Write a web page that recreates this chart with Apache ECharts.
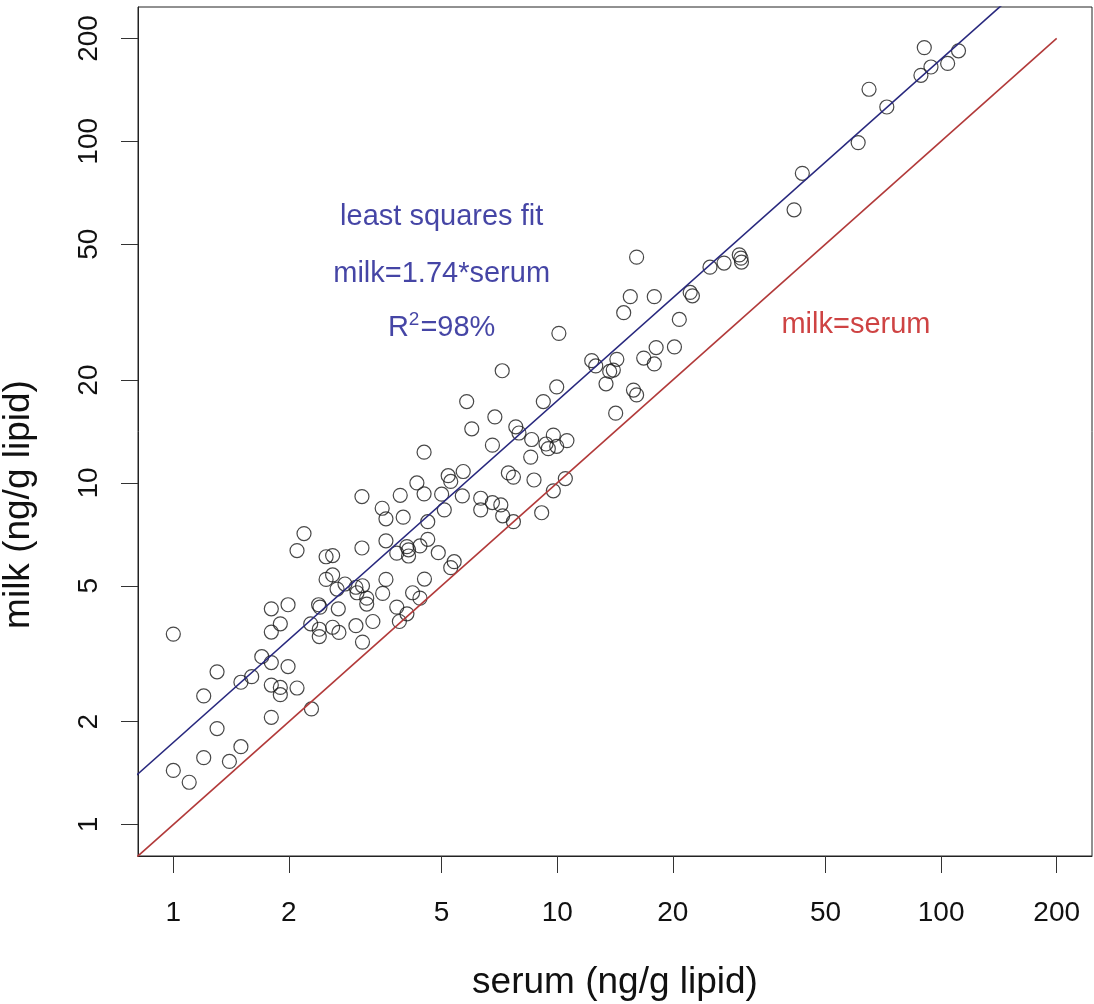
<!DOCTYPE html>
<html>
<head>
<meta charset="utf-8">
<title>milk vs serum</title>
<script src="https://cdn.jsdelivr.net/npm/echarts@6/dist/echarts.min.js"></script>
<style>
  html, body { margin: 0; padding: 0; background: #fff; }
  #chartWrap { width: 1094px; height: 1004px; }
</style>
</head>
<body>
<div id="chartWrap"></div>
<script>
// 数据：serum / milk (ng/g lipid)
var serum = [
  1.00, 1.80, 1.99, 2.39, 2.41, 2.69, 1.90, 1.80, 2.28, 2.40, 2.40, 2.60, 1.70, 1.80, 1.99, 1.30,
  1.50, 1.60, 1.80, 1.90, 1.90, 2.10, 1.20, 2.29, 1.80, 1.30, 1.50, 1.20, 1.40, 1.00, 1.10,
  3.10, 3.90, 3.50, 3.58, 3.97, 2.19, 2.10, 2.50, 2.60, 3.10, 3.58, 3.82, 4.06, 4.10, 4.10, 2.50,
  2.60, 2.67, 2.80, 2.99, 3.11, 3.01, 3.19, 3.19, 3.58, 3.51, 3.82, 4.06, 3.88, 3.31, 2.99, 3.11, 2.70,
  6.88, 5.99, 6.78, 4.50, 7.46, 7.69, 5.69, 5.20, 5.28, 4.31, 4.50, 5.00, 5.66, 6.32, 6.78, 7.13,
  5.08, 6.32, 7.21, 4.60, 4.39, 4.60, 4.90, 5.39, 5.28, 4.51, 4.20, 4.39,
  10.1, 7.19, 12.3, 12.6, 9.97, 5.81, 9.20, 7.80, 7.95, 8.58, 9.77, 9.35, 10.6, 9.97, 9.48, 8.53,
  8.70, 10.5, 9.77, 7.69, 9.11,
  16.1, 25.0, 27.2, 29.8, 30.1, 30.2, 15.5, 17.9, 22.2, 22.5, 14.9, 20.8, 18.1, 20.2, 14.3, 16.8,
  17.9, 13.7, 14.0, 13.4, 15.8, 16.1, 14.2,
  90.4, 111, 94.1, 104, 88.6, 64.9, 72.2, 60.8, 43.5, 41.4
];
var milk = [
  3.61, 4.28, 4.40, 4.40, 4.33, 4.28, 3.87, 3.66, 3.87, 3.73, 3.55, 3.78, 3.10, 2.98, 2.90, 2.80,
  2.61, 2.71, 2.56, 2.52, 2.40, 2.51, 2.38, 2.18, 2.06, 1.91, 1.69, 1.57, 1.53, 1.44, 1.33,
  9.12, 9.20, 8.43, 7.85, 7.94, 7.11, 6.34, 6.08, 6.13, 6.45, 6.77, 6.23, 6.51, 6.37, 6.11, 5.22,
  5.38, 4.89, 5.06, 4.95, 5.00, 4.77, 4.60, 4.42, 5.22, 4.75, 4.33, 4.14, 3.93, 3.93, 3.82, 3.42, 3.65,
  15.6, 14.4, 12.9, 12.3, 10.7, 10.4, 10.8, 10.5, 10.1, 10.0, 9.29, 9.27, 9.16, 9.02, 8.76, 8.62,
  8.34, 8.34, 8.01, 7.70, 6.54, 6.84, 6.25, 5.88, 5.65, 5.23, 4.77, 4.60,
  27.4, 21.3, 22.8, 22.0, 19.1, 17.3, 17.3, 14.6, 14.0, 13.4, 13.8, 13.0, 13.3, 12.8, 12.6, 11.9,
  10.2, 10.3, 9.48, 7.70, 8.18,
  45.8, 42.8, 44.0, 46.5, 45.5, 44.3, 35.1, 35.1, 36.1, 35.3, 31.5, 30.1, 24.9, 25.0, 23.0, 23.2,
  22.3, 21.2, 21.4, 19.5, 18.7, 18.1, 16.0,
  188, 184, 165, 169, 156, 142, 126, 99.1, 80.6, 63.0
];

var tickValues = [1, 2, 5, 10, 20, 50, 100, 200];

// 拟合线 milk = 1.74*serum, 对角线 milk = serum
var fitSlope = 1.74;
var fitX = [0.5, 300];
var identityX = [0.5, 200];

// 图中文字
var noteText = ['least squares fit', 'milk=1.74*serum', 'R2=98%'];
var noteSerum = [5, 5, 5];
var noteMilk = [60, 41, 28.5];
var redNoteText = ['milk=serum'];
var redNoteSerum = [60];
var redNoteMilk = [29];

var FONT = '"Liberation Sans", Arial, sans-serif';
var AXMIN = 0.8091, AXMAX = 247.2;
var BLUE_TXT = '#16168f', RED_TXT = '#c21414';

var points = serum.map(function(s, i) { return [s, milk[i]]; });
var fitLine = fitX.map(function(x) { return [x, fitSlope * x]; });
var idLine = identityX.map(function(x) { return [x, x]; });

function notes(xs, ys, texts) {
  return xs.map(function(x, i) { return { value: [x, ys[i]], name: texts[i] }; });
}

function logAxis(isY) {
  return {
    type: 'log',
    logBase: 10,
    min: AXMIN,
    max: AXMAX,
    name: isY ? 'milk (ng/g lipid)' : 'serum (ng/g lipid)',
    nameLocation: 'middle',
    nameGap: isY ? 101 : 108,
    nameTextStyle: {
      fontFamily: FONT, fontSize: 37, color: '#111',
      // y 轴标题在原图中偏下
      padding: isY ? [0, 146, 0, 0] : 0
    },
    axisLine: { show: true, lineStyle: { color: '#222', width: 1 } },
    axisTick: { show: true, length: 17, customValues: tickValues, lineStyle: { color: '#333', width: 1 } },
    axisLabel: {
      customValues: tickValues,
      rotate: isY ? 90 : 0,
      margin: isY ? 35 : 43,
      fontFamily: FONT,
      fontSize: 28,
      color: '#111',
      formatter: function(v) { return String(v); }
    },
    splitLine: { show: false },
    minorTick: { show: false }
  };
}

var myChart = echarts.init(document.getElementById('chartWrap'), null, { renderer: 'canvas' });
myChart.setOption({
  animation: false,
  backgroundColor: '#fff',
  grid: {
    left: 138, right: 2, top: 7, bottom: 148,
    show: true, borderColor: '#222', borderWidth: 1,
    containLabel: false, outerBoundsMode: 'none'
  },
  xAxis: logAxis(false),
  yAxis: logAxis(true),
  series: [
    {
      type: 'scatter',
      data: points,
      symbol: 'circle',
      symbolSize: 14,
      itemStyle: { color: 'rgba(0,0,0,0)', borderColor: '#1a1a1a', borderWidth: 1.2 },
      silent: true
    },
    {
      type: 'line',
      data: fitLine,
      showSymbol: false,
      clip: true,
      lineStyle: { color: '#28287e', width: 1.6 },
      silent: true
    },
    {
      type: 'line',
      data: idLine,
      showSymbol: false,
      clip: true,
      lineStyle: { color: '#b23a3a', width: 1.6 },
      silent: true
    },
    {
      type: 'scatter',
      data: notes(noteSerum, noteMilk, noteText),
      symbolSize: 0,
      silent: true,
      label: {
        show: true,
        position: 'inside',
        fontFamily: FONT,
        fontSize: 29,
        color: BLUE_TXT,
        formatter: function(p) {
          if (p.name.indexOf('R2') === 0) {
            return '{a|R}{s|2}{a|' + p.name.slice(2) + '}';
          }
          return p.name;
        },
        rich: {
          a: { fontFamily: FONT, fontSize: 29, color: BLUE_TXT, lineHeight: 34 },
          s: { fontFamily: FONT, fontSize: 19, color: BLUE_TXT, verticalAlign: 'top', lineHeight: 34, padding: [0, 1, 0, 0] }
        }
      }
    },
    {
      type: 'scatter',
      data: notes(redNoteSerum, redNoteMilk, redNoteText),
      symbolSize: 0,
      silent: true,
      label: {
        show: true,
        position: 'inside',
        fontFamily: FONT,
        fontSize: 29,
        color: RED_TXT,
        formatter: '{b}'
      }
    }
  ]
});
</script>
</body>
</html>
